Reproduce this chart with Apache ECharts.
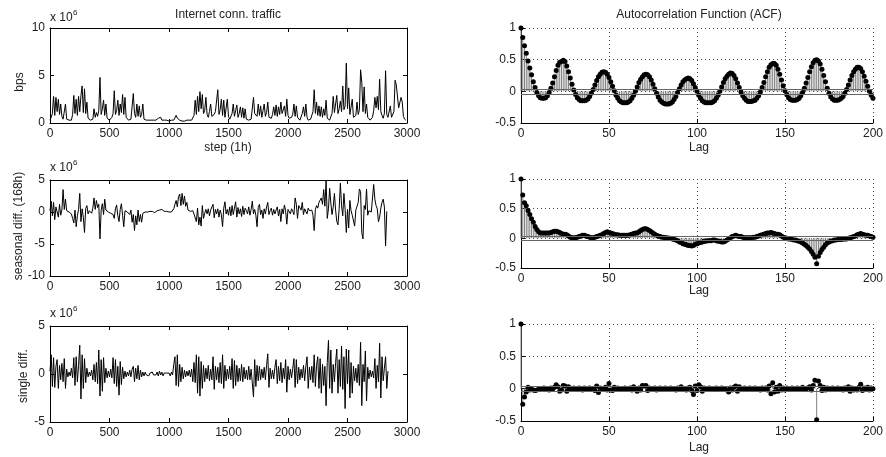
<!DOCTYPE html>
<html>
<head>
<meta charset="utf-8">
<script src="https://cdn.jsdelivr.net/npm/echarts@6/dist/echarts.min.js"></script>
<style>
html, body { margin: 0; padding: 0; background: #fff; }
#container { width: 886px; height: 457px; }
</style>
</head>
<body>
<div id="container"></div>
<script>
// one value every 10 steps (hours), units of 10^6
var STEP = 10;

var traffic = [
  0.3,0.6,1.0,2.8,0.8,2.7,1.2,2.5,0.9,2.0, 0.7,0.4,0.3,2.0,0.4,0.3,0.3,0.2,0.3,0.9,
  2.9,1.0,2.5,0.8,2.8,1.2,2.9,3.9,1.1,3.6, 1.0,2.2,0.5,0.3,0.3,0.3,0.4,1.5,0.6,1.1,
  0.7,1.3,4.8,0.9,1.5,2.4,0.8,2.0,0.5,0.4, 0.3,0.4,0.6,1.0,3.4,0.9,1.3,2.4,0.8,2.0,
  1.1,3.0,0.9,2.7,0.6,0.5,0.3,0.3,0.4,0.6, 3.1,1.0,0.6,2.0,0.7,1.8,0.6,0.9,2.0,0.4,
  0.3,0.3,0.2,0.3,0.4,0.3,0.2,0.3,0.2,0.3, 0.3,0.5,0.3,0.6,0.3,0.4,0.3,0.2,0.3,0.3,
  0.2,0.3,0.3,0.4,0.3,0.5,0.8,0.5,0.7,0.3, 0.3,0.2,0.3,0.2,0.3,0.3,0.2,0.3,0.2,0.3,
  0.4,0.8,2.4,0.9,2.8,1.2,3.3,1.5,3.0,1.0, 1.3,2.7,0.9,0.6,1.2,2.0,0.7,0.5,0.9,1.2,
  1.0,3.5,0.9,1.4,2.5,0.8,2.4,0.6,0.8,2.5, 0.7,0.4,0.6,1.0,2.0,0.7,1.3,1.9,0.6,1.0,
  1.7,0.6,1.6,0.5,1.5,0.4,0.3,0.3,0.3,0.4, 0.6,2.7,1.0,1.2,0.7,2.0,0.8,1.8,0.6,1.3,
  2.0,0.7,1.1,2.2,0.6,0.4,0.5,0.9,1.7,0.8, 1.9,0.7,1.7,0.9,2.2,1.0,0.8,1.8,0.7,2.5,
  0.8,0.5,0.4,0.6,0.9,2.0,0.7,1.8,0.6,0.4, 0.3,0.5,1.0,1.7,0.7,2.0,0.6,0.3,0.3,0.4,
  0.6,1.2,3.5,1.0,2.2,0.8,1.8,0.7,1.7,0.6, 1.5,0.8,2.4,0.5,0.4,0.3,0.5,1.0,2.8,1.1,
  1.2,2.9,1.0,1.5,2.3,1.2,3.9,1.4,1.8,6.3, 1.5,3.7,0.9,1.0,2.5,0.6,0.4,0.8,2.2,0.9,
  1.4,5.6,4.3,1.2,3.8,1.0,2.0,0.6,0.4,0.3, 0.4,0.6,1.3,2.7,1.6,2.8,1.4,4.6,1.2,0.8,
  0.5,1.0,5.5,0.9,0.6,0.7,1.8,0.6,0.4,1.2, 4.5,4.0,3.8,1.6,1.4,2.7,2.2,0.7,0.4,0.3
];

var seasonalDiff = [
  0.2,1.7,-0.6,1.5,-1.2,0.8,0.5,-0.8,1.2,-0.5, 0.3,3.5,0.4,2.0,0.2,0.1,0.0,0.2,-0.3,-1.0,
  -1.7,0.3,-2.3,-0.6,0.4,2.9,-1.5,0.5,-0.8,-3.2, 0.5,1.0,-0.3,0.2,0.1,-0.2,0.6,2.2,0.4,1.8,
  0.7,1.2,-4.2,0.3,1.3,-0.4,2.0,0.3,0.1,0.0, 0.1,-0.2,0.0,-0.4,-1.0,0.5,1.1,-0.6,-1.5,0.4,
  1.3,-0.5,-2.3,0.2,0.1,0.0,-0.2,-0.4,0.3,-1.6, -0.4,-2.9,-0.6,-2.0,0.3,-1.5,-0.4,-1.6,-0.2,0.1,
  0.0,0.1,0.0,-0.1,0.1,0.0,0.1,0.0,-0.1,0.1, 0.2,0.1,0.3,0.2,0.4,0.2,0.1,0.0,0.1,0.0,
  0.0,0.0,0.0,0.1,0.5,1.2,1.8,0.8,2.4,2.8, 1.0,2.9,1.2,2.5,0.9,1.5,0.3,0.2,0.1,0.0,
  0.2,-0.3,-0.5,-1.5,0.6,-2.0,-0.8,-2.2,1.0,-1.0, -0.2,0.4,-0.3,0.5,-0.6,0.3,0.2,1.2,-0.9,0.4,
  -0.3,0.5,-0.8,0.3,-0.4,-2.3,0.6,1.6,-0.3,0.4, -0.5,0.8,-0.6,1.0,-0.4,0.6,1.6,-0.8,0.7,-0.3,
  0.5,-0.7,0.9,-0.4,0.6,0.2,-0.3,0.8,-0.5,0.4, 1.7,-0.3,0.4,-0.5,-2.3,0.7,1.2,-0.4,0.3,-1.0,
  0.5,-0.3,0.8,1.5,-0.4,0.2,0.6,-0.5,0.4,-0.3, 0.3,0.8,-0.6,0.4,-1.5,0.5,-0.3,1.1,0.2,-1.9,
  0.4,0.2,-0.3,0.5,0.1,-0.4,2.2,1.2,-1.0,1.0, 1.2,0.3,1.5,-0.4,0.5,0.2,-0.3,0.6,0.2,0.4,
  0.3,-0.5,-2.9,0.4,1.0,0.6,1.5,1.7,2.2,1.2, 3.5,0.9,4.9,-1.0,0.5,3.7,1.4,-0.4,0.8,2.9,
  0.3,-1.5,-2.0,0.5,4.5,1.0,-0.6,2.9,0.4,-3.2, 0.4,-2.5,1.8,0.2,-0.5,-0.8,-2.2,0.3,0.6,1.5,
  3.6,3.2,-3.2,-4.2,1.0,0.4,3.6,-0.5,0.2,0.0, 0.0,0.1,4.3,2.0,1.0,0.5,-1.5,-0.8,0.6,1.5,
  2.0,0.8,-5.3,0.1
];

var singleDiff = [
  0.3,2.0,-1.3,1.7,-1.4,0.8,1.5,-1.5,0.9,-0.6, 1.1,-0.8,1.6,-1.5,0.5,-0.3,0.2,-0.2,0.6,-0.4,
  1.7,-1.2,1.8,-0.8,0.9,3.0,-2.6,2.0,-1.5,1.6, -0.9,0.6,-0.3,0.2,-0.2,0.4,-0.6,1.0,-0.8,1.2,
  -1.0,2.5,-2.3,1.5,-1.8,1.7,-0.9,0.6,-0.4,0.3, -0.3,0.5,-0.4,1.7,-1.0,1.5,-1.3,0.8,-2.2,1.3,
  -1.1,0.7,-0.5,0.3,-0.3,0.2,-0.2,0.4,-0.3,0.5, 0.8,-0.8,0.6,-0.5,0.9,-0.6,0.4,-0.3,0.2,-0.2,
  0.2,-0.1,0.1,-0.2,0.1,-0.1,0.2,-0.1,0.1,-0.1, 0.2,-0.2,0.3,-0.1,0.2,-0.2,0.1,-0.1,0.1,-0.1,
  0.1,-0.2,0.2,-0.1,1.0,1.8,-1.2,2.0,-1.3,1.0, -0.8,0.7,-0.5,0.4,-0.3,0.3,-0.2,0.4,-0.3,0.5,
  -0.8,1.2,-0.9,2.0,-2.0,1.8,-2.3,1.3,-1.5,0.9, -0.8,0.6,-0.5,0.9,-0.7,0.5,-0.6,1.8,-1.6,0.8,
  -0.6,0.7,-0.9,1.2,-1.0,2.0,-1.5,0.9,-0.7,0.5, -0.5,0.8,-0.6,1.6,-1.5,1.4,-1.2,0.9,-0.8,0.6,
  -0.7,1.0,-0.8,0.7,-0.5,0.4,-0.6,0.8,-0.6,0.5, 0.7,-2.4,1.5,-1.3,0.9,-0.7,0.8,-0.6,0.5,-0.4,
  0.7,-0.6,0.9,2.1,-1.4,0.6,-0.5,0.4,-0.5,0.7, 1.5,-1.0,0.8,-0.7,1.2,-0.9,0.6,-0.5,1.5,-1.9,
  0.8,-0.6,0.5,-0.4,0.6,1.6,-1.4,1.5,-1.0,0.7, -0.6,0.5,-0.4,0.9,-0.7,0.8,1.8,-1.5,0.7,-0.6,
  0.8,-0.9,2.0,-1.3,0.9,1.8,-1.5,1.6,-2.0,1.0, -1.2,0.8,-3.3,1.2,3.5,-1.5,2.5,-2.0,1.0,-0.8,
  1.2,2.6,-2.0,1.5,-1.3,2.9,-1.6,1.8,-3.6,2.6, -1.0,2.5,-2.5,1.2,-2.0,0.8,-0.7,0.6,-0.9,1.0,
  -1.2,3.3,-3.3,1.0,-0.8,2.4,-2.8,0.7,-0.5,0.4, -0.3,0.3,-0.4,1.6,-1.5,0.9,-0.8,3.2,-2.5,1.8,
  -0.7,0.6,1.8,-1.5,0.3
];

// autocorrelation, lags 0..200
var acfTraffic = [
  1,.85,.72,.6,.48,.37,.26,.15,.06,-.02, -.07,-.1,-.11,-.11,-.1,-.07,-.02,.05,.13,.23,
  .33,.41,.46,.47,.49,.47,.4,.31,.21,.11, .02,-.05,-.1,-.13,-.15,-.15,-.15,-.14,-.12,-.08,
  -.03,.03,.1,.17,.23,.27,.3,.31,.3,.27, .22,.15,.08,.01,-.06,-.11,-.15,-.17,-.18,-.18,
  -.18,-.17,-.15,-.11,-.06,0,.07,.14,.19,.23, .26,.27,.26,.23,.18,.11,.04,-.03,-.09,-.14,
  -.17,-.19,-.2,-.2,-.2,-.19,-.17,-.13,-.08,-.02, .04,.1,.15,.18,.2,.21,.2,.17,.12,.06,
  0,-.06,-.11,-.15,-.17,-.18,-.18,-.18,-.18,-.17, -.15,-.11,-.06,0,.07,.14,.2,.24,.27,.29,
  .28,.25,.2,.13,.06,-.01,-.07,-.11,-.14,-.16, -.16,-.16,-.15,-.14,-.11,-.07,-.01,.06,.14,.23,
  .31,.38,.42,.44,.44,.41,.35,.27,.18,.09, .01,-.05,-.1,-.13,-.14,-.14,-.14,-.13,-.11,-.07,
  -.02,.05,.13,.22,.31,.39,.45,.49,.5,.48, .43,.35,.25,.15,.05,-.03,-.09,-.12,-.14,-.14,
  -.14,-.13,-.11,-.08,-.03,.03,.1,.18,.25,.31, .35,.38,.38,.36,.31,.24,.16,.08,0,-.06,
  -.11
];

var acfSeasonal = [
  1,.73,.6,.55,.47,.4,.33,.27,.2,.15, .11,.09,.09,.09,.09,.09,.09,.1,.11,.12,
  .12,.11,.1,.08,.07,.07,.06,.04,.02,.01, .01,.01,.02,.03,.04,.05,.05,.04,.03,.02,
  .01,.01,.02,.03,.04,.05,.06,.08,.1,.11, .1,.09,.08,.07,.06,.06,.05,.05,.05,.05,
  .05,.05,.06,.07,.08,.09,.09,.11,.13,.15, .16,.16,.15,.13,.11,.09,.07,.05,.04,.03,
  .02,.02,.01,.01,0,0,-.01,-.02,-.03,-.04, -.06,-.07,-.09,-.1,-.11,-.12,-.12,-.13,-.12,-.1,
  -.09,-.08,-.07,-.06,-.05,-.05,-.04,-.04,-.04,-.03, -.03,-.04,-.05,-.05,-.06,-.06,-.05,-.03,-.01,.01,
  .03,.04,.05,.04,.03,.03,.02,.01,.01,.01, .01,.01,.02,.02,.03,.04,.05,.06,.07,.08,
  .09,.09,.1,.09,.08,.07,.07,.06,.04,.02, .01,0,-.01,-.01,-.02,-.03,-.03,-.04,-.05,-.06,
  -.08,-.1,-.12,-.15,-.18,-.22,-.27,-.32,-.43,-.3, -.24,-.19,-.15,-.11,-.08,-.06,-.05,-.04,-.03,-.03,
  -.02,-.02,-.02,-.01,-.01,-.01,0,.01,.02,.03, .04,.06,.07,.08,.07,.06,.05,.05,.04,.03,
  .02
];

var acfSingle = [
  1,-.24,-.13,-.05,.02,-.02,-.01,-.02,-.03,-.02, -.01,0,-.01,.01,-.01,0,-.02,.01,-.01,.02,
  .06,.03,-.04,-.02,.05,.04,-.04,.03,0,-.01, .01,0,-.01,.01,0,-.02,.01,-.01,0,.01,
  -.01,0,-.03,.04,-.06,.01,0,-.01,.02,-.02, .08,-.02,-.03,.02,-.01,.01,0,-.01,0,.01,
  -.01,0,.01,-.02,.03,0,-.04,.01,-.02,.05, .04,.05,-.03,.01,-.01,0,.01,-.02,0,.01,
  -.01,0,.01,-.01,0,.01,-.01,0,-.02,.01, 0,.03,-.01,0,-.02,.01,.02,-.03,-.09,.04,
  -.03,.06,.03,-.04,.01,0,-.01,.01,0,-.01, 0,.01,-.01,0,.01,-.01,0,-.02,-.05,.01,
  -.02,.02,.04,-.04,.03,-.01,0,.01,-.01,0, .01,-.01,0,.01,-.01,0,-.02,.01,-.01,.01,
  -.02,.04,-.08,.09,-.05,.02,-.04,.05,-.02,.01, -.02,.01,0,-.01,.01,0,-.01,.01,0,-.01,
  .02,-.01,0,.01,.03,-.02,.05,.13,-.48,.12, .05,-.03,.02,-.02,.01,-.01,0,.01,-.01,0,
  .01,-.01,0,-.02,.01,-.01,.03,-.04,.01,-.02, 0,-.02,.02,.07,-.03,.01,-.01,.02,-.02,.01,
  0
];

// axis ranges: [min, max, interval]
var stepRange = [0, 3000, 500];
var lagRange = [0, 200, 50];
var acfRange = [-0.5, 1, 0.5];
var yRanges = [[0, 10, 5], [-10, 5, 5], [-5, 5, 5]];
var confBound = 0.04;

var leftNames = ['bps', 'seasonal diff. (168h)', 'single diff.'];
var leftSeries = [traffic, seasonalDiff, singleDiff];
var acfSeries = [acfTraffic, acfSeasonal, acfSingle];

var FONT = '"Liberation Sans", Arial, sans-serif';
var TXT = '#222';

var leftGrids = [
    { left: 50, top: 28, width: 357, height: 95 },
    { left: 50, top: 180, width: 357, height: 96 },
    { left: 50, top: 326, width: 357, height: 96 }
];
var rightGrids = [
    { left: 521, top: 28, width: 357, height: 95 },
    { left: 521, top: 179, width: 357, height: 89 },
    { left: 521, top: 324, width: 357, height: 97 }
];

var grid = [], xAxis = [], yAxis = [], series = [], graphic = [];

function labelStyle(show) {
    return { show: show, fontFamily: FONT, fontSize: 12, color: TXT, margin: 5,
             showMinLabel: true, showMaxLabel: true,
             formatter: function (v) { return String(v); } };
}

// left column: line plots in a full box, ticks on all sides
leftGrids.forEach(function (g, i) {
    var gi = grid.length;
    grid.push(g);
    var yr = yRanges[i];
    [['bottom', true], ['top', false]].forEach(function (p) {
        xAxis.push({
            type: 'value', gridIndex: gi, position: p[0],
            min: stepRange[0], max: stepRange[1], interval: stepRange[2],
            axisLine: { show: true, onZero: false, lineStyle: { color: '#000', width: 1 } },
            axisTick: { show: true, inside: true, length: 4, lineStyle: { color: '#000' } },
            axisLabel: labelStyle(p[1]),
            splitLine: { show: false }
        });
    });
    [['left', true], ['right', false]].forEach(function (p) {
        yAxis.push({
            type: 'value', gridIndex: gi, position: p[0],
            min: yr[0], max: yr[1], interval: yr[2],
            axisLine: { show: true, onZero: false, lineStyle: { color: '#000', width: 1 } },
            axisTick: { show: true, inside: true, length: 4, lineStyle: { color: '#000' } },
            axisLabel: labelStyle(p[1]),
            splitLine: { show: false }
        });
    });
    series.push({
        type: 'line',
        xAxisIndex: xAxis.length - 2, yAxisIndex: yAxis.length - 2,
        data: leftSeries[i].map(function (v, k) { return [k * STEP, v]; }),
        showSymbol: false, sampling: null,
        lineStyle: { color: '#000', width: 1 },
        silent: true
    });
});

// right column: ACF stem plots with dotted grid
rightGrids.forEach(function (g, i) {
    var gi = grid.length;
    grid.push(g);
    xAxis.push({
        type: 'value', gridIndex: gi,
        min: lagRange[0], max: lagRange[1], interval: lagRange[2],
        axisLine: { show: true, onZero: false, lineStyle: { color: '#000', width: 1 } },
        axisTick: { show: true, inside: true, length: 4, lineStyle: { color: '#000' } },
        axisLabel: labelStyle(true),
        splitLine: { show: true, lineStyle: { color: '#444', type: [1, 3], width: 1 } }
    });
    yAxis.push({
        type: 'value', gridIndex: gi,
        min: acfRange[0], max: acfRange[1], interval: acfRange[2],
        axisLine: { show: true, onZero: false, lineStyle: { color: '#000', width: 1 } },
        axisTick: { show: true, inside: true, length: 4, lineStyle: { color: '#000' } },
        axisLabel: labelStyle(true),
        splitLine: { show: true, lineStyle: { color: '#444', type: [1, 3], width: 1 } }
    });
    var pts = acfSeries[i].map(function (v, k) { return [k, v]; });
    series.push({
        type: 'bar',
        xAxisIndex: xAxis.length - 1, yAxisIndex: yAxis.length - 1,
        data: pts, barWidth: 1,
        itemStyle: { color: '#808080' },
        silent: true,
        markLine: {
            silent: true, symbol: 'none', label: { show: false },
            lineStyle: { color: '#666', type: 'solid', width: 1 },
            data: [{ yAxis: confBound }, { yAxis: -confBound }]
        }
    });
    series.push({
        type: 'scatter',
        xAxisIndex: xAxis.length - 1, yAxisIndex: yAxis.length - 1,
        data: pts, symbolSize: 5,
        itemStyle: { color: '#000', opacity: 1 },
        silent: true
    });
});

function text(x, y, str, opts) {
    opts = opts || {};
    graphic.push({
        type: 'text', x: x, y: y, rotation: opts.rotation || 0, silent: true,
        style: {
            text: str, fontFamily: FONT, fontSize: opts.size || 12, fill: TXT,
            align: opts.align || 'center', verticalAlign: 'middle'
        }
    });
}

text(228, 15, 'Internet conn. traffic');
text(699, 15, 'Autocorrelation Function (ACF)');
text(228, 148, 'step (1h)');
text(699, 148, 'Lag');
text(699, 291, 'Lag');
text(699, 448, 'Lag');

var multY = [18, 168, 314];
multY.forEach(function (y) {
    text(50, y, 'x 10', { align: 'left' });
    text(73, y - 5, '6', { align: 'left', size: 8 });
});

var nameX = [20, 19, 24];
var nameY = [82, 226, 376];
leftNames.forEach(function (n, i) {
    text(nameX[i], nameY[i], n, { rotation: Math.PI / 2 });
});

var dom = document.getElementById('container');
var myChart = echarts.init(dom, null, { renderer: 'canvas' });
var option = {
    animation: false,
    backgroundColor: '#fff',
    grid: grid,
    xAxis: xAxis,
    yAxis: yAxis,
    series: series,
    graphic: graphic
};
myChart.setOption(option);
window.addEventListener('resize', myChart.resize);
</script>
</body>
</html>
